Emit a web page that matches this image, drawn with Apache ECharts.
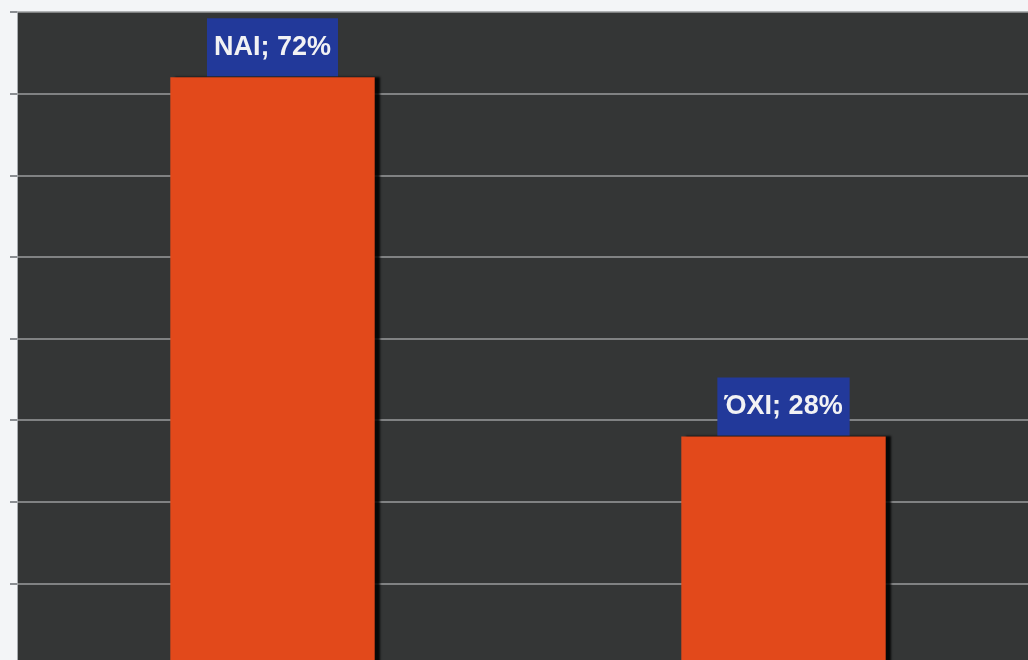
<!DOCTYPE html>
<html>
<head>
<meta charset="utf-8">
<script src="https://cdn.jsdelivr.net/npm/echarts@6/dist/echarts.min.js"></script>
<style>
  html, body { margin: 0; padding: 0; background: #f3f5f7; overflow: hidden; }
  /* the reference is a crop: plot runs past the right and bottom edges */
  #chart { width: 1039px; height: 665px; }
</style>
</head>
<body>
<div id="chart"></div>
<script>
const categories = ["ΝΑΙ", "ΌΧΙ"];
const shares = [72, 28];
const axisMax = 80;
const axisStep = 10;

const chart = echarts.init(document.getElementById("chart"), null, { renderer: "canvas" });

const option = {
  backgroundColor: "#f3f5f7",
  animation: false,
  grid: {
    show: true,
    left: 17,
    top: 12,
    right: 0,
    bottom: 0,
    outerBoundsMode: "none",
    backgroundColor: "#343636",
    borderWidth: 0,
  },
  xAxis: {
    type: "category",
    data: categories,
    axisLine: { show: false },
    axisTick: { show: false },
    axisLabel: { show: false },
  },
  yAxis: {
    type: "value",
    min: 0,
    max: axisMax,
    interval: axisStep,
    axisLabel: { show: false },
    axisLine: { show: true, lineStyle: { color: "#a8acb0", width: 1 } },
    axisTick: { show: true, length: 7, lineStyle: { color: "#8a8e92", width: 2 } },
    splitLine: { lineStyle: { color: "#9a9c9e", width: 1.5 } },
  },
  series: [
    {
      type: "bar",
      data: shares,
      barWidth: "40%",
      itemStyle: {
        color: "#e2491b",
        shadowColor: "rgba(0,0,0,0.85)",
        shadowBlur: 2,
        shadowOffsetX: 5,
        shadowOffsetY: 0,
      },
      label: {
        show: true,
        position: "top",
        distance: 1,
        formatter: "{b}; {c}%",
        fontFamily: "Liberation Sans, Arial, sans-serif",
        fontWeight: "bold",
        fontSize: 27,
        lineHeight: 28,
        color: "#f2f2f4",
        backgroundColor: "#22399a",
        padding: [15, 7, 15, 7],
      },
    },
  ],
};

chart.setOption(option);
</script>
</body>
</html>
